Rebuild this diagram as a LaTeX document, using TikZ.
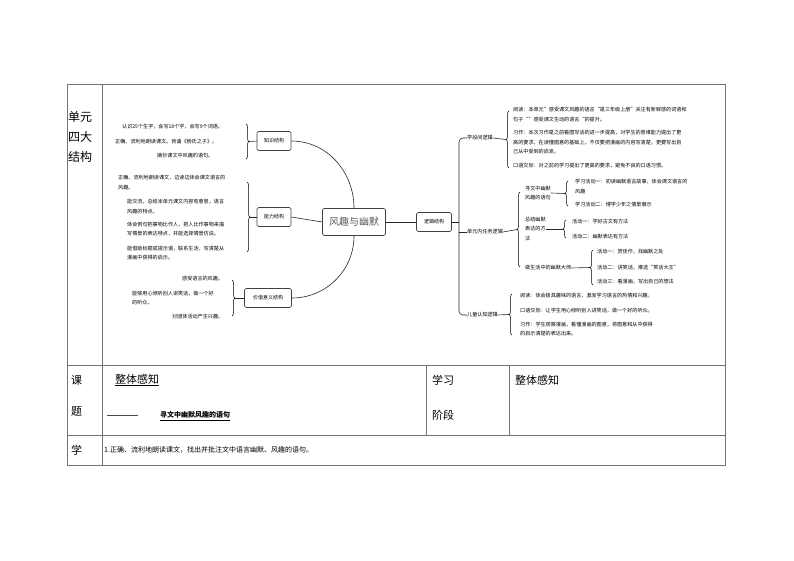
\documentclass[tikz,border=0pt]{standalone}
\usepackage{fontspec}
\setmainfont{Noto Sans CJK SC}
\usetikzlibrary{decorations.pathreplacing}
\tikzset{
  grid/.style={draw=black!55, line width=0.8pt},
  topic/.style={draw=black!75, rounded corners=1.5pt, line width=0.6pt, font=\fontsize{5}{6}\selectfont, minimum height=19pt, inner xsep=3pt},
  rootbox/.style={draw=black!75, rounded corners=2pt, line width=0.7pt, font=\fontsize{10}{12}\selectfont, text=black!65, minimum width=63pt, minimum height=27pt},
  leaf/.style={anchor=west, align=left, font=\fontsize{5.1}{9.5}\selectfont, inner sep=0pt},
  br/.style={decorate, decoration={brace, amplitude=3pt}, line width=0.5pt},
  link/.style={draw=black!85, line width=0.6pt},
  cell/.style={anchor=west, inner sep=0pt, font=\fontsize{11}{12}\selectfont},
}
\begin{document}
\begin{tikzpicture}[x=1pt,y=-1pt]
\useasboundingbox (0,0) rectangle (794,561);
% table
\draw[grid] (67,84) rectangle (725,465);
\draw[grid] (102,84) -- (102,465);
\draw[grid] (67,365) -- (725,365);
\draw[grid] (67,435) -- (725,435);
\draw[grid] (426,365) -- (426,435);
\draw[grid] (509,365) -- (509,435);
\node[cell, align=left, font=\fontsize{12}{20}\selectfont] (unit) at (68,137) {单元\\四大\\结构};
\node[cell] (ke) at (71,380) {课};
\node[cell] (ti) at (71,412) {题};
\node[cell] (xue) at (71,450) {学};
\node[cell] (zt) at (115,380) {\underline{整体感知}};
\draw[black!70, line width=0.6pt] (107,415) -- (138,415);
\node[cell, font=\fontsize{7}{8}\selectfont\bfseries] (xw) at (160,416) {\underline{寻文中幽默风趣的语句}};
\node[cell] (xx) at (432,380) {学习};
\node[cell] (jd) at (432,415) {阶段};
\node[cell] (zt2) at (515,380) {整体感知};
\node[cell, font=\fontsize{7}{8}\selectfont] (goal) at (104,450) {1.正确、流利地朗读课文，找出并批注文中语言幽默、风趣的语句。};

% mind map, left side
\node[rootbox] (root) at (354,222) {风趣与幽默};
\node[topic, minimum width=34pt] (zs) at (274,141) {知识结构};
\node[topic, minimum width=34pt] (nl) at (274,217) {能力结构};
\node[topic, minimum width=47pt] (jz) at (268,298) {价值意义结构};
\draw[link] (root.north) to[out=90, in=0] (zs.east);
\draw[link] (root.west) -- (nl.east);
\draw[link] (root.south) to[out=-90, in=0] (jz.east);

\node[leaf] (k1) at (122,127) {认识25个生字，会写18个字，会写9个词语。};
\node[leaf] (k2) at (115,142) {正确、流利地朗读课文。背诵《杨氏之子》。};
\node[leaf] (k3) at (157,156) {摘抄课文中风趣的语句。};
\draw[br] (246,124) -- (246,159) coordinate[pos=.5, xshift=3pt] (zsb);
\draw[link] (zsb) -- (zs.west);

\node[leaf] (n1) at (118,182.5) {正确、流利地朗读课文，边读边体会课文语言的\\风趣。};
\node[leaf] (n2) at (127,206.5) {能交流，总结本单元课文内容有意思，语言\\风趣的特点。};
\node[leaf] (n3) at (127,229) {体会例句把事物比作人，把人比作事物来描\\写情景的表达特点，并能选择情景仿说。};
\node[leaf] (n4) at (127,253) {能借助标题或提示语，联系生活，写清楚从\\漫画中获得的启示。};
\draw[br] (247,182) -- (247,252) coordinate[pos=.5, xshift=3pt] (nlb);
\draw[link] (nlb) -- (nl.west);

\node[leaf] (v1) at (182,279) {感受语言的风趣。};
\node[leaf] (v2) at (132,298) {能够用心倾听别人讲笑话，做一个好\\的听众。};
\node[leaf] (v3) at (172,317) {对团体活动产生兴趣。};
\draw[br] (232,280) -- (232,316) coordinate[pos=.5, xshift=3pt] (jzb);
\draw[link] (jzb) -- (jz.west);

% mind map, right side
\node[topic, minimum width=35pt] (lj) at (434,222) {逻辑结构};
\draw[link] (root.east) -- (lj.west);
\node[leaf] (xd) at (467,138) {学段间逻辑};
\node[leaf] (dy) at (467,232) {单元内任务逻辑};
\node[leaf] (et) at (467,315) {儿童认知逻辑};
\draw[link] (lj.east) -- (459,222);
\draw[link, rounded corners=4pt] (xd.west) -| (459,222) |- (et.west);
\draw[link] (459,232) -- (dy.west);

\node[leaf] (r1) at (513,114.5) {阅读：本单元”感受课文风趣的语言“是三年级上册”关注有新鲜感的词语和\\句子“”感受课文生动的语言“的提升。};
\node[leaf] (r2) at (513,142.5) {习作：本次习作是之前看图写话的进一步提高，对学生的思维能力提出了更\\高的要求，在读懂图意的基础上，不仅要把漫画的内容写清楚，更要写出自\\己从中受到的启发。};
\node[leaf] (r3) at (513,166) {口语交际：对之前的学习提出了更高的要求，避免不良的口语习惯。};
\draw[br] (509,168) -- (509,111) coordinate[pos=.5, xshift=-3pt] (xdb);
\draw[link] (xd.east) -- (xdb);

\node[leaf] (t1) at (525,193) {寻文中幽默\\风趣的语句};
\node[leaf] (t2) at (525,229) {总结幽默\\表达的方\\法};
\node[leaf] (t3) at (525,268) {做生活中的幽默大师};
\draw[br] (520,267) -- (520,192) coordinate[pos=.5, xshift=-3pt] (dyb);
\draw[link] (dy.east) -- (dyb);

\node[leaf] (a1) at (575,186.5) {学习活动一：初读幽默语言故事，体会课文语言的\\风趣};
\node[leaf] (a2) at (575,205) {学习活动二：博学少年之情景展示};
\draw[br] (568,206) -- (568,181) coordinate[pos=.5, xshift=-3pt] (t1b);
\draw[link] (t1.east) -- (t1b);

\node[leaf] (b1) at (572,222) {活动一：学好古文有方法};
\node[leaf] (b2) at (572,237) {活动二：幽默表达有方法};
\draw[br] (566,238) -- (566,220) coordinate[pos=.5, xshift=-3pt] (t2b);
\draw[link] (t2.east) -- (t2b);

\node[leaf] (c1) at (597,252) {活动一：赏佳作，找幽默之处};
\node[leaf] (c2) at (597,268) {活动二：讲笑话，推选“笑话大王”};
\node[leaf] (c3) at (597,282) {活动三：看漫画，写出自己的想法};
\draw[br] (593,285) -- (593,250) coordinate[pos=.5, xshift=-3pt] (t3b);
\draw[link] (t3.east) -- (t3b);

\node[leaf] (e1) at (520,296) {阅读：体会极具趣味的语言，激发学习语言的热情和兴趣。};
\node[leaf] (e2) at (520,311) {口语交际：让学生用心倾听别人讲笑话，做一个好的听众。};
\node[leaf] (e3) at (520,329) {习作：学生观察漫画，看懂漫画的图意，将图意和从中获得\\的启示清楚的表达出来。};
\draw[br] (512,335) -- (512,294) coordinate[pos=.5, xshift=-3pt] (etb);
\draw[link] (et.east) -- (etb);
\end{tikzpicture}
\end{document}
